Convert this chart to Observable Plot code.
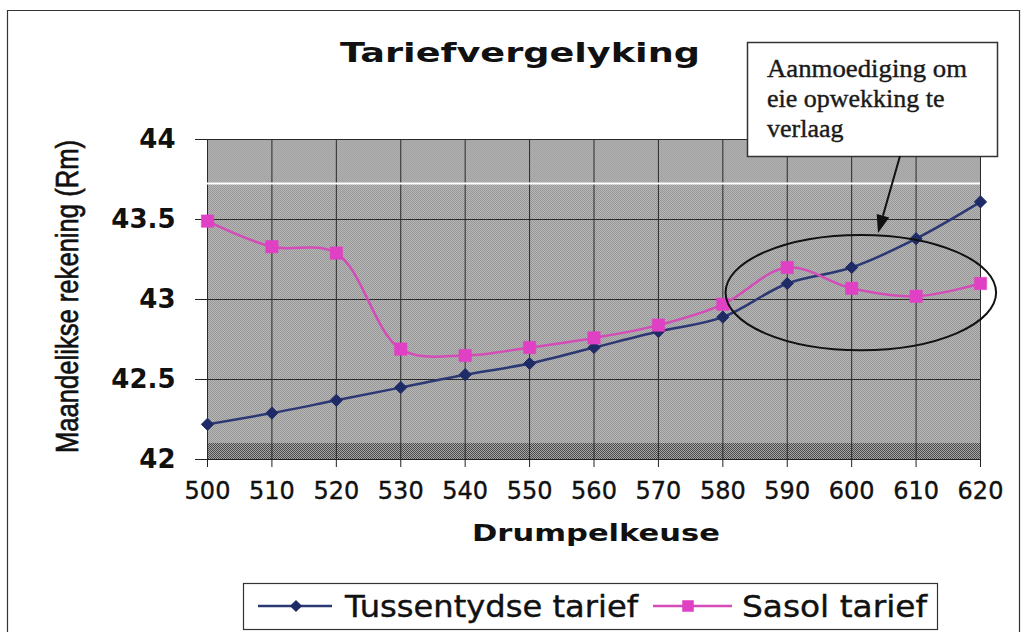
<!DOCTYPE html>
<html>
<head>
<meta charset="utf-8">
<script src="https://cdn.jsdelivr.net/npm/d3@7"></script>
<script src="https://cdn.jsdelivr.net/npm/@observablehq/plot@0.6"></script>
<style>
  body { margin: 0; background: #fff; }
  #chart { width: 1026px; height: 632px; overflow: hidden; }
</style>
</head>
<body>
<div id="chart"></div>
<script>
// ---- data ----
const drumpel = [500, 510, 520, 530, 540, 550, 560, 570, 580, 590, 600, 610, 620];
const tussentydse = [42.22, 42.29, 42.37, 42.45, 42.53, 42.60, 42.70, 42.80, 42.89, 43.10, 43.20, 43.38, 43.61];
const sasol = [43.49, 43.33, 43.29, 42.69, 42.65, 42.70, 42.76, 42.84, 42.97, 43.20, 43.07, 43.02, 43.10];
const yTicks = [42, 42.5, 43, 43.5, 44];
const seriesNames = ["Tussentydse tarief", "Sasol tarief"];
const chartTitle = "Tariefvergelyking";
const xTitle = "Drumpelkeuse";
const yTitle = "Maandelikse rekening (Rm)";
const noteLines = ["Aanmoediging om", "eie opwekking te", "verlaag"];

// ---- build tables ----
const blueData = drumpel.map((x, i) => ({x, y: tussentydse[i]}));
const pinkData = drumpel.map((x, i) => ({x, y: sasol[i]}));
const xMin = drumpel[0], xMax = drumpel[drumpel.length - 1];
const yMin = yTicks[0], yMax = yTicks[yTicks.length - 1];
const bands = [
  {x1: xMin, x2: xMax, y1: yMin, y2: 43.725, kind: "main"},
  {x1: xMin, x2: xMax, y1: 43.725, y2: yMax, kind: "top"},
  {x1: xMin, x2: xMax, y1: yMin, y2: 42.1, kind: "bottom"}
];
const BLUE = "#1f2b66", BLUE_LINE = "#2b3874";
const PINK = "#e040c4", PINK_LINE = "#d44cb8";

const plot = Plot.plot({
  width: 1026,
  height: 632,
  marginLeft: 207,
  marginRight: 46,
  marginTop: 139,
  marginBottom: 173,
  style: {fontFamily: "DejaVu Sans", background: "transparent", color: "#111", overflow: "visible"},
  x: {domain: [xMin, xMax]},
  y: {domain: [yMin, yMax]},
  marks: [
    Plot.rect(bands.filter(d => d.kind === "main"), {x1: "x1", x2: "x2", y1: "y1", y2: "y2", fill: "#a5a5a1"}),
    Plot.rect(bands.filter(d => d.kind === "top"), {x1: "x1", x2: "x2", y1: "y1", y2: "y2", fill: "#a9a9a1"}),
    Plot.rect(bands.filter(d => d.kind === "bottom"), {x1: "x1", x2: "x2", y1: "y1", y2: "y2", fill: "#8a8a81"}),
    Plot.gridX({ticks: drumpel, stroke: "#2a2a2a", strokeOpacity: 1, strokeWidth: 1}),
    Plot.gridY({ticks: yTicks, stroke: "#2a2a2a", strokeOpacity: 1, strokeWidth: 1}),
    Plot.ruleY([43.725], {stroke: "#ffffff", strokeWidth: 2}),
    Plot.ruleY([yMin], {stroke: "#222", strokeWidth: 1.2}),
    Plot.axisX({ticks: drumpel, tickSize: 8, tickPadding: 14, fontSize: 24, label: null, tickFormat: d => String(d), stroke: "#222"}),
    Plot.axisY({ticks: yTicks, tickSize: 12, tickPadding: 20, fontSize: 26, fontWeight: "bold", label: null, tickFormat: d => String(d), stroke: "#222"}),
    Plot.line(blueData, {x: "x", y: "y", stroke: BLUE_LINE, strokeWidth: 2.5, curve: "catmull-rom"}),
    Plot.line(pinkData, {x: "x", y: "y", stroke: PINK_LINE, strokeWidth: 2.5, curve: "catmull-rom"}),
    Plot.dot(blueData, {x: "x", y: "y", symbol: "diamond2", r: 5.5, fill: BLUE, stroke: BLUE, strokeWidth: 1}),
    Plot.dot(pinkData, {x: "x", y: "y", symbol: "square", r: 7, fill: PINK, stroke: PINK, strokeWidth: 0.5})
  ]
});

document.getElementById("chart").appendChild(plot);
const svg = d3.select(plot);

// ---- halftone textures ----
const defs = svg.insert("defs", ":first-child");
function checker(id, light, dark) {
  const p = defs.append("pattern").attr("id", id).attr("patternUnits", "userSpaceOnUse").attr("width", 2).attr("height", 2);
  p.append("rect").attr("width", 2).attr("height", 2).attr("fill", light);
  p.append("rect").attr("width", 1).attr("height", 1).attr("fill", dark);
  p.append("rect").attr("x", 1).attr("y", 1).attr("width", 1).attr("height", 1).attr("fill", dark);
}
checker("tmain", "#b8b8b8", "#969696");
checker("ttop", "#b0b0b0", "#a2a2a2");
checker("tbottom", "#a8a8a8", "#4a4a4a");
svg.selectAll('[fill="#a5a5a1"]').attr("fill", "url(#tmain)");
svg.selectAll('[fill="#a9a9a1"]').attr("fill", "url(#ttop)");
svg.selectAll('[fill="#8a8a81"]').attr("fill", "url(#tbottom)");

// slightly heavier x tick labels, as in the scanned original
svg.selectAll('[aria-label="x-axis tick label"] text').attr("stroke", "#111").attr("stroke-width", 0.35);

const xs = plot.scale("x"), ys = plot.scale("y");

// ---- outer frame ----
svg.append("path").attr("d", "M7.5,640V10.5H1019.5V640").attr("fill", "none").attr("stroke", "#333").attr("stroke-width", 1.2);

// ---- titles ----
svg.append("text").attr("x", 520).attr("y", 62).attr("text-anchor", "middle")
  .attr("font-family", "DejaVu Sans").attr("font-weight", "bold").attr("font-size", 26)
  .attr("textLength", 360).attr("lengthAdjust", "spacingAndGlyphs").attr("fill", "#111").text(chartTitle);
svg.append("text").attr("x", 596).attr("y", 541).attr("text-anchor", "middle")
  .attr("font-family", "DejaVu Sans").attr("font-weight", "bold").attr("font-size", 23)
  .attr("textLength", 248).attr("lengthAdjust", "spacingAndGlyphs").attr("fill", "#111").text(xTitle);
svg.append("text").attr("transform", "translate(78,296.5) rotate(-90)").attr("text-anchor", "middle")
  .attr("font-family", "Liberation Sans").attr("font-size", 32)
  .attr("stroke", "#111").attr("stroke-width", 0.7)
  .attr("textLength", 313).attr("lengthAdjust", "spacingAndGlyphs").attr("fill", "#111").text(yTitle);

// ---- highlight ellipse (data coordinates) ----
const hl = {x: 601.5, y: 43.04, dx: 21, dy: 0.36};
const ecx = xs.apply(hl.x), ecy = ys.apply(hl.y);
svg.append("ellipse").attr("cx", ecx).attr("cy", ecy)
  .attr("rx", xs.apply(hl.x + hl.dx) - ecx).attr("ry", ys.apply(hl.y - hl.dy) - ecy)
  .attr("fill", "none").attr("stroke", "#111").attr("stroke-width", 2);

// ---- annotation box + arrow ----
svg.append("rect").attr("x", 747.5).attr("y", 42.5).attr("width", 250).attr("height", 114)
  .attr("fill", "#fff").attr("stroke", "#333").attr("stroke-width", 1.5);
noteLines.forEach((t, i) => {
  const el = svg.append("text").attr("x", 767).attr("y", 77 + i * 30).attr("text-anchor", "start")
    .attr("font-family", "Liberation Serif").attr("font-size", 26).attr("fill", "#1a1a1a")
    .attr("stroke", "#1a1a1a").attr("stroke-width", 0.4).text(t);
  if (i === 0) el.attr("textLength", 200).attr("lengthAdjust", "spacingAndGlyphs");
});
{
  const sx = 900, sy = 156, tx = 878, ty = 233;
  const L = Math.hypot(tx - sx, ty - sy), ux = (tx - sx) / L, uy = (ty - sy) / L;
  const hlen = 18, hw = 6.5;
  const bx = tx - ux * hlen, by = ty - uy * hlen;
  svg.append("line").attr("x1", sx).attr("y1", sy).attr("x2", bx).attr("y2", by).attr("stroke", "#111").attr("stroke-width", 2);
  svg.append("path").attr("d", `M${tx},${ty}L${bx - uy * hw},${by + ux * hw}L${bx + uy * hw},${by - ux * hw}Z`).attr("fill", "#111");
}

// ---- legend ----
const lg = svg.append("g");
lg.append("rect").attr("x", 243.5).attr("y", 583.5).attr("width", 694).attr("height", 46)
  .attr("fill", "#fff").attr("stroke", "#333").attr("stroke-width", 1.2);
const legendItems = [
  {name: seriesNames[0], lx1: 258, lx2: 332, mx: 296, tx: 345, tl: 293, color: BLUE, lcolor: BLUE_LINE, sym: d3.symbolDiamond2, size: Math.PI * 5.5 * 5.5},
  {name: seriesNames[1], lx1: 653, lx2: 732, mx: 688, tx: 742, tl: 185, color: PINK, lcolor: PINK_LINE, sym: d3.symbolSquare, size: Math.PI * 6.5 * 6.5}
];
legendItems.forEach(it => {
  lg.append("line").attr("x1", it.lx1).attr("x2", it.lx2).attr("y1", 606).attr("y2", 606).attr("stroke", it.lcolor).attr("stroke-width", 2.5);
  lg.append("path").attr("transform", `translate(${it.mx},606)`).attr("d", d3.symbol(it.sym, it.size)()).attr("fill", it.color);
  lg.append("text").attr("x", it.tx).attr("y", 617).attr("text-anchor", "start").attr("font-family", "DejaVu Sans").attr("font-size", 30)
    .attr("stroke", "#111").attr("stroke-width", 0.4)
    .attr("textLength", it.tl).attr("lengthAdjust", "spacingAndGlyphs").attr("fill", "#111").text(it.name);
});
</script>
</body>
</html>
